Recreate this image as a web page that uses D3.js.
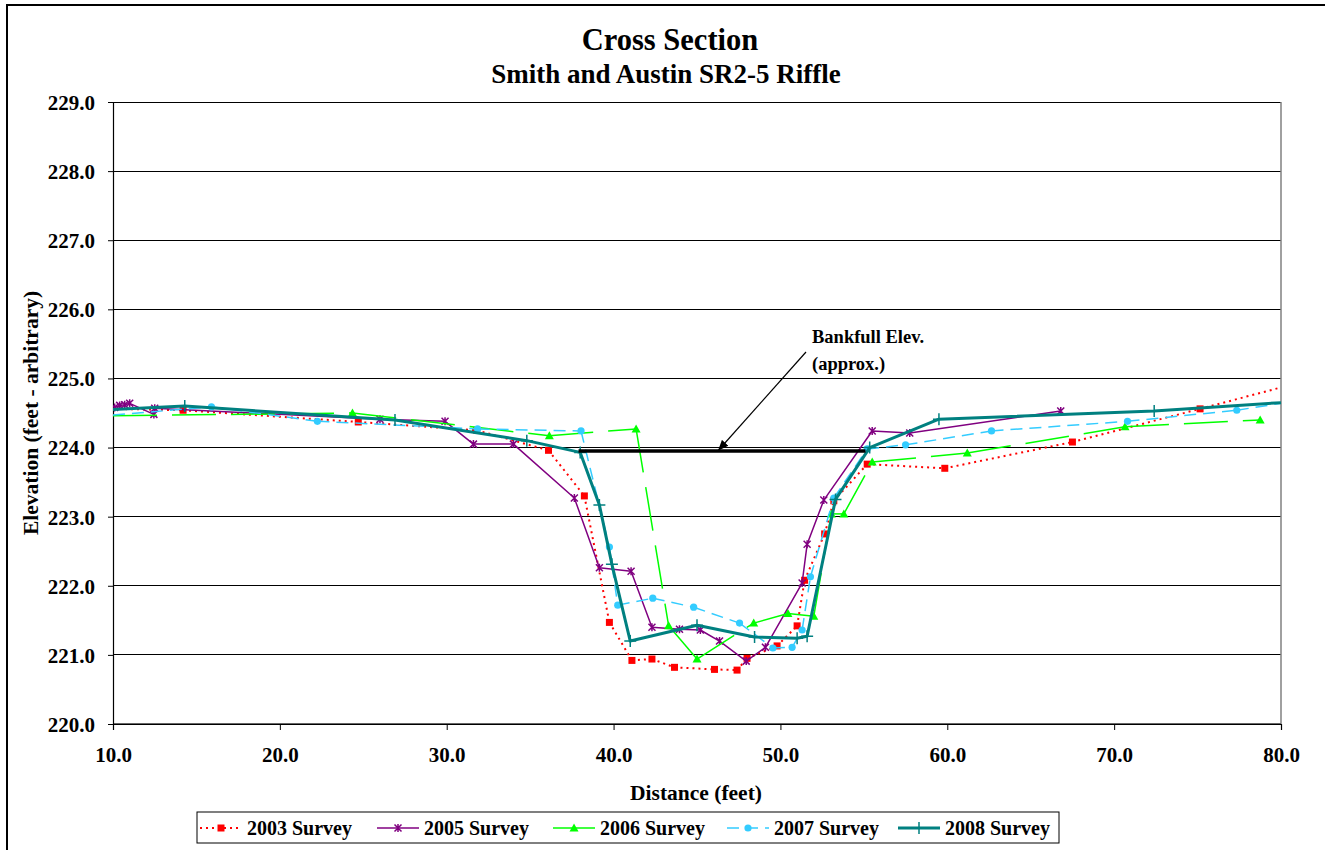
<!DOCTYPE html>
<html><head><meta charset="utf-8">
<script src="https://cdn.jsdelivr.net/npm/d3@7"></script>
<style>
body{margin:0;background:#fff;}
text{font-family:"Liberation Serif","Times New Roman",serif;font-weight:bold;fill:#000;}
</style></head>
<body><svg id="chart" width="1325" height="850"></svg>
<script>
const titleText = "Cross Section";
const subtitleText = "Smith and Austin SR2-5 Riffle";
const xTicks = [10,20,30,40,50,60,70,80];
const yTicks = [220,221,222,223,224,225,226,227,228,229];
const seriesNames = ["2003 Survey","2005 Survey","2006 Survey","2007 Survey","2008 Survey"];

const survey2003 = [[10.0,224.56],[14.2,224.54],[24.7,224.37],[31.8,224.25],[36.1,223.96],[38.25,223.3],[39.75,221.47],[41.1,220.92],[42.3,220.94],[43.65,220.82],[46.05,220.79],[47.4,220.78],[48.0,220.95],[49.8,221.13],[51.0,221.42],[51.45,222.08],[52.65,222.75],[53.2,223.23],[55.2,223.76],[59.85,223.7],[67.5,224.08],[75.15,224.56],[80.0,224.87]];
const survey2005 = [[10.1,224.58],[10.4,224.61],[10.7,224.62],[11.0,224.64],[12.45,224.48],[12.5,224.57],[26.0,224.41],[29.9,224.38],[31.6,224.05],[34.0,224.05],[37.65,223.27],[39.15,222.26],[41.05,222.21],[42.3,221.4],[43.95,221.37],[45.2,221.36],[46.35,221.2],[47.95,220.91],[49.1,221.11],[51.3,222.04],[51.6,222.6],[52.6,223.24],[55.5,224.24],[57.75,224.21],[66.8,224.53]];
const survey2006 = [[10.0,224.46],[24.35,224.5],[36.15,224.17],[41.35,224.27],[43.3,221.42],[45.0,220.94],[48.4,221.46],[50.45,221.6],[52.0,221.56],[53.05,223.04],[53.8,223.04],[55.5,223.79],[61.2,223.92],[70.65,224.3],[78.75,224.4]];
const survey2007 = [[10.0,224.47],[15.9,224.59],[22.25,224.38],[31.85,224.27],[38.05,224.24],[39.75,222.56],[40.25,221.72],[42.35,221.82],[44.8,221.69],[47.55,221.46],[49.55,221.1],[50.7,221.11],[51.3,221.36],[51.8,222.13],[53.2,223.27],[55.2,223.98],[57.5,224.04],[62.65,224.24],[70.8,224.38],[77.35,224.54],[80.0,224.64]];
const survey2008 = [[10.0,224.55],[14.3,224.6],[26.9,224.4],[34.8,224.1],[38.0,223.93],[39.15,223.17],[39.9,222.31],[41.0,221.2],[45.0,221.43],[48.45,221.26],[51.0,221.24],[51.6,221.27],[53.3,223.25],[55.35,224.0],[59.5,224.41],[72.4,224.53],[80.0,224.65]];
const bankfull = [[37.9,223.95],[55.1,223.95]];
const bankfullLabel = ["Bankfull Elev.","(approx.)"];

const svg = d3.select("#chart");
const L=113, R=1281, T=102, B=724;
const x = d3.scaleLinear().domain([10,80]).range([L,R]);
const y = d3.scaleLinear().domain([220,229]).range([B,T]);

// outer border
svg.append("rect").attr("x",7).attr("y",5).attr("width",1340).attr("height",870)
  .attr("fill","none").attr("stroke","#000").attr("stroke-width",2);

// titles
svg.append("text").attr("x",670).attr("y",50).attr("text-anchor","middle").attr("font-size",30.5).text(titleText);
svg.append("text").attr("x",666).attr("y",83).attr("text-anchor","middle").attr("font-size",27).text(subtitleText);

// gridlines
svg.append("g").selectAll("line").data(yTicks).join("line")
  .attr("x1",L).attr("x2",R).attr("y1",d=>y(d)).attr("y2",d=>y(d))
  .attr("stroke","#000").attr("stroke-width",1).attr("shape-rendering","crispEdges");
svg.append("line").attr("x1",R).attr("x2",R).attr("y1",T).attr("y2",B).attr("stroke","#808080").attr("stroke-width",1.5);
svg.append("line").attr("x1",L).attr("x2",R).attr("y1",B).attr("y2",B).attr("stroke","#666").attr("stroke-width",2);

// axes
const fmt = d3.format(".1f");
const yAxis = svg.append("g").attr("transform",`translate(${L},0)`)
  .call(d3.axisLeft(y).tickValues(yTicks).tickFormat(fmt).tickSize(5).tickPadding(13));
const xAxis = svg.append("g").attr("transform",`translate(0,${B})`)
  .call(d3.axisBottom(x).tickValues(xTicks).tickFormat(fmt).tickSize(6).tickPadding(17));
[yAxis,xAxis].forEach(a=>{
  a.select(".domain").attr("stroke","#000").attr("stroke-width",1.2);
  a.selectAll(".tick line").attr("stroke","#000");
  a.selectAll("text").attr("font-size",21).attr("font-family","Liberation Serif").attr("font-weight","bold").attr("fill","#000");
});
yAxis.selectAll("text").attr("dy","0.35em");

// axis titles
svg.append("text").attr("x",696).attr("y",800).attr("text-anchor","middle").attr("font-size",21.5).text("Distance (feet)");
svg.append("text").attr("transform","translate(38,413) rotate(-90)").attr("text-anchor","middle").attr("font-size",21.5).text("Elevation (feet - arbitrary)");

// clip
svg.append("clipPath").attr("id","clip").append("rect").attr("x",L).attr("y",T-10).attr("width",R-L+6).attr("height",B-T+20);
const plot = svg.append("g").attr("clip-path","url(#clip)");

const styles = [
  {data:survey2003,color:"#FF0000",width:2,dash:"2,4",marker:"square",perSeg:true},
  {data:survey2005,color:"#800080",width:1.5,dash:null,marker:"asterisk",perSeg:false},
  {data:survey2006,color:"#00FF00",width:1.5,dash:"44,15",marker:"triangle",perSeg:true},
  {data:survey2007,color:"#33CCFF",width:1.5,dash:"12,7",marker:"circle",perSeg:true},
  {data:survey2008,color:"#008080",width:3,dash:null,marker:"plus",perSeg:false}
];
const line = d3.line().x(d=>x(d[0])).y(d=>y(d[1]));

function markerPath(type){
  switch(type){
    case "square": return "M-3.5,-3.5H3.5V3.5H-3.5Z";
    case "triangle": return "M0,-4.5L4.5,3.5L-4.5,3.5Z";
    case "asterisk": return "M-3.5,-3.5L3.5,3.5M-3.5,3.5L3.5,-3.5M0,-4L0,4";
    case "plus": return "M-6,0H6M0,-6V6";
    default: return null;
  }
}
function drawMarker(g,type,color,cx,cy){
  if(type==="circle"){
    g.append("circle").attr("cx",cx).attr("cy",cy).attr("r",3.6).attr("fill",color);
  } else {
    const p = g.append("path").attr("d",markerPath(type)).attr("transform",`translate(${cx},${cy})`);
    if(type==="square"||type==="triangle") p.attr("fill",color).attr("stroke","none");
    else p.attr("fill","none").attr("stroke",color).attr("stroke-width",1.5);
  }
}

styles.forEach(s=>{
  const g = plot.append("g");
  if(s.perSeg){
    for(let i=0;i<s.data.length-1;i++){
      g.append("path").attr("d",line([s.data[i],s.data[i+1]])).attr("fill","none")
        .attr("stroke",s.color).attr("stroke-width",s.width).attr("stroke-dasharray",s.dash);
    }
  } else {
    g.append("path").attr("d",line(s.data)).attr("fill","none")
      .attr("stroke",s.color).attr("stroke-width",s.width).attr("stroke-linejoin","round");
  }
  s.data.filter(d=>d[0]>10.05&&d[0]<79.95).forEach(d=>drawMarker(g,s.marker,s.color,x(d[0]),y(d[1])));
});

// bankfull line
plot.append("path").attr("d",line(bankfull)).attr("stroke","#000").attr("stroke-width",3.5).attr("fill","none");
// arrow
svg.append("defs").append("marker").attr("id","arrow").attr("viewBox","0 0 10 10").attr("refX",9).attr("refY",5)
  .attr("markerWidth",9).attr("markerHeight",9).attr("orient","auto")
  .append("path").attr("d","M0,1L10,5L0,9Z").attr("fill","#000");
const arrowEnd = [ (bankfull[0][0]+bankfull[1][0])/2 - 0.2, bankfull[0][1] ];
svg.append("line").attr("x1",806).attr("y1",352).attr("x2",x(arrowEnd[0])).attr("y2",y(arrowEnd[1])-1)
  .attr("stroke","#000").attr("stroke-width",1.2).attr("marker-end","url(#arrow)");
svg.append("text").attr("x",812).attr("y",343).attr("font-size",18.5).text(bankfullLabel[0]);
svg.append("text").attr("x",812).attr("y",370).attr("font-size",18.5).text(bankfullLabel[1]);

// legend
const lg = svg.append("g");
lg.append("rect").attr("x",197).attr("y",812).attr("width",862).attr("height",31).attr("fill","#fff").attr("stroke","#000").attr("stroke-width",1);
const legX = [200,377,553,727,898];
styles.forEach((s,i)=>{
  const x0 = legX[i], yy = 828;
  const ln = lg.append("line").attr("x1",x0).attr("x2",x0+42).attr("y1",yy).attr("y2",yy)
    .attr("stroke",s.color).attr("stroke-width",s.width);
  if(s.dash && i!==2) ln.attr("stroke-dasharray", s.dash);
  drawMarker(lg,s.marker,s.color,x0+21,yy);
  lg.append("text").attr("x",x0+47).attr("y",yy+7).attr("font-size",20).text(seriesNames[i]);
});
</script></body></html>
